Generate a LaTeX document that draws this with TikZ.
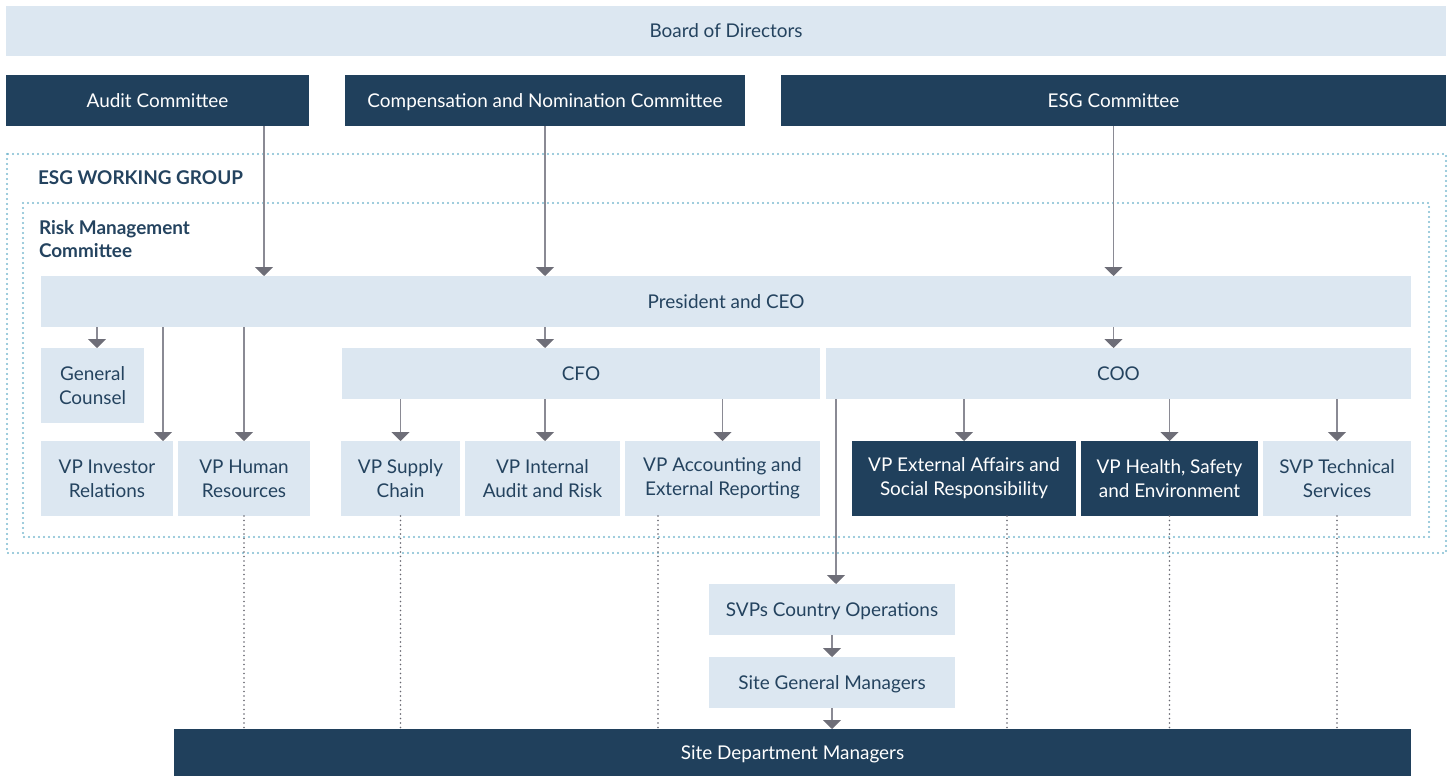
\documentclass[tikz,border=0pt]{standalone}
\usepackage{fontspec}
\setmainfont{Lato}
\usetikzlibrary{arrows.meta}

\definecolor{paleblue}{HTML}{DCE7F1}
\definecolor{navy}{HTML}{20405C}
\definecolor{inktext}{HTML}{24435F}
\definecolor{linegray}{HTML}{8A8A94}
\definecolor{tipgray}{HTML}{6E6E78}
\definecolor{dotblue}{HTML}{7DBBD1}
\definecolor{dotgray}{HTML}{66666F}

\tikzset{
  lbox/.style={fill=paleblue, text=inktext, inner sep=0pt, outer sep=0pt,
    align=center, anchor=north west, font=\fontsize{19}{24}\selectfont},
  dbox/.style={lbox, fill=navy, text=white},
  oneline/.style={text height=16bp, text depth=2.3bp},
  arr/.style={draw=linegray, line width=1.3bp,
    -{Triangle[width=18bp, length=9bp, color=tipgray]}},
  reportline/.style={draw=dotgray, line width=1.8bp, line cap=round,
    dash pattern=on 0pt off 4.5bp},
  dotborder/.style={draw=dotblue, line width=2.2bp, line cap=round,
    dash pattern=on 0pt off 5bp},
  grouplabel/.style={text=inktext, inner sep=0pt, outer sep=0pt,
    align=left, font=\fontsize{19}{24}\selectfont\bfseries}
}

\begin{document}
\begin{tikzpicture}[x=1bp, y=-1bp]
\useasboundingbox (0,0) rectangle (1452,776);

% working group frames
\draw[dotborder] (7,154) rectangle (1446,553);
\draw[dotborder] (23,203) rectangle (1429,537);

\node[grouplabel, anchor=west] (wg) at (38,178) {ESG WORKING GROUP};
\node[grouplabel, anchor=north west] (rmc) at (39,220) {Risk Management\\Committee};

% board and committees
\node[lbox, oneline, minimum width=1440bp, minimum height=50bp] (board) at (6,6) {Board of Directors};
\node[dbox, oneline, minimum width=303bp, minimum height=51bp] (audit) at (6,75) {Audit Committee};
\node[dbox, oneline, minimum width=400bp, minimum height=51bp] (comp) at (345,75) {Compensation and Nomination Committee};
\node[dbox, oneline, minimum width=665bp, minimum height=51bp] (esgc) at (781,75) {ESG Committee};

% executives
\node[lbox, oneline, minimum width=1370bp, minimum height=51bp] (ceo) at (41,276) {President and CEO};
\node[lbox, minimum width=103bp, minimum height=75bp] (gc) at (41,348) {General\\Counsel};
\node[lbox, oneline, minimum width=478bp, minimum height=51bp] (cfo) at (342,348) {CFO};
\node[lbox, oneline, minimum width=585bp, minimum height=51bp] (coo) at (826,348) {COO};

% vice presidents
\node[lbox, minimum width=132bp, minimum height=75bp] (vpir) at (41,441) {VP Investor\\Relations};
\node[lbox, minimum width=132bp, minimum height=75bp] (vphr) at (178,441) {VP Human\\Resources};
\node[lbox, minimum width=119bp, minimum height=75bp] (vpsc) at (341,441) {VP Supply\\Chain};
\node[lbox, minimum width=155bp, minimum height=75bp] (vpia) at (465,441) {VP Internal\\Audit and Risk};
\node[lbox, minimum width=195bp, minimum height=75bp] (vpae) at (625,441) {VP Accounting and\\External Reporting};
\node[dbox, minimum width=224bp, minimum height=75bp] (vpea) at (852,441) {VP External Affairs and\\Social Responsibility};
\node[dbox, minimum width=177bp, minimum height=75bp] (vphs) at (1081,441) {VP Health, Safety\\and Environment};
\node[lbox, minimum width=148bp, minimum height=75bp] (svpts) at (1263,441) {SVP Technical\\Services};

% operations chain
\node[lbox, oneline, minimum width=246bp, minimum height=51bp] (svpco) at (709,584) {SVPs Country Operations};
\node[lbox, oneline, minimum width=246bp, minimum height=51bp] (sgm) at (709,657) {Site General Managers};
\node[dbox, oneline, minimum width=1237bp, minimum height=47bp] (sdm) at (174,729) {Site Department Managers};

% connector columns
\coordinate (xa) at (264,0);
\coordinate (xgc) at (97,0);
\coordinate (xir) at (163,0);
\coordinate (xia) at (545,0);
\coordinate (xops) at (836,0);
\coordinate (xsite) at (832,0);
\coordinate (xae) at (658,0);
\coordinate (xea) at (1007,0);

% solid reporting lines
\draw[arr] (audit.south -| xa) -- (ceo.north -| xa);
\draw[arr] (comp.south) -- (ceo.north -| comp.south);
\draw[arr] (esgc.south) -- (ceo.north -| esgc.south);

\draw[arr] (ceo.south -| xgc) -- (gc.north -| xgc);
\draw[arr] (ceo.south -| xir) -- (vpir.north -| xir);
\draw[arr] (ceo.south -| vphr.north) -- (vphr.north);
\draw[arr] (ceo.south -| comp.south) -- (cfo.north -| comp.south);
\draw[arr] (ceo.south -| esgc.south) -- (coo.north -| esgc.south);

\draw[arr] (cfo.south -| vpsc.north) -- (vpsc.north);
\draw[arr] (cfo.south -| xia) -- (vpia.north -| xia);
\draw[arr] (cfo.south -| vpae.north) -- (vpae.north);

\draw[arr] (coo.south -| vpea.north) -- (vpea.north);
\draw[arr] (coo.south -| vphs.north) -- (vphs.north);
\draw[arr] (coo.south -| svpts.north) -- (svpts.north);
\draw[arr] (coo.south -| xops) -- (svpco.north -| xops);

\draw[arr] (svpco.south -| xsite) -- (sgm.north -| xsite);
\draw[arr] (sgm.south -| xsite) -- (sdm.north -| xsite);

% dotted lines to site department managers
\draw[reportline] (vphr.south) -- (sdm.north -| vphr.south);
\draw[reportline] (vpsc.south) -- (sdm.north -| vpsc.south);
\draw[reportline] (vpae.south -| xae) -- (sdm.north -| xae);
\draw[reportline] (vpea.south -| xea) -- (sdm.north -| xea);
\draw[reportline] (vphs.south) -- (sdm.north -| vphs.south);
\draw[reportline] (svpts.south) -- (sdm.north -| svpts.south);
\end{tikzpicture}
\end{document}
